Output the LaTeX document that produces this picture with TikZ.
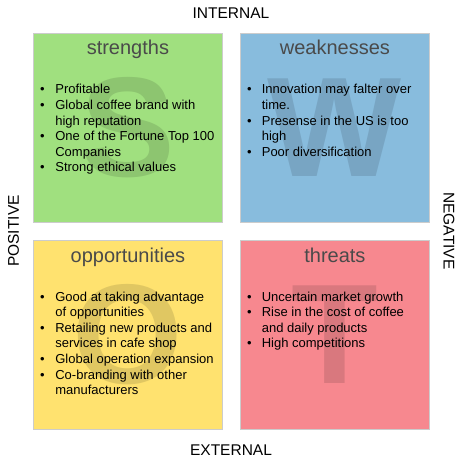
\documentclass[tikz,border=0pt]{standalone}
\usepackage{fontspec}
\setmainfont{Liberation Sans}
\usetikzlibrary{positioning}
\definecolor{swotS}{HTML}{A0E07F}
\definecolor{swotW}{HTML}{88BCDD}
\definecolor{swotO}{HTML}{FFE26F}
\definecolor{swotT}{HTML}{F7888F}
\definecolor{boxline}{HTML}{CCCCCC}
\definecolor{titlegray}{HTML}{4A4A4A}
\tikzset{
  box/.style={draw=boxline, line width=0.8pt, minimum width=189pt, minimum height=189pt,
    inner sep=0pt, anchor=north west},
  bigletter/.style={font=\fontsize{142}{142}\selectfont\bfseries, inner sep=0pt},
  boxtitle/.style={font=\fontsize{20}{24}\selectfont, text=titlegray, anchor=base, inner sep=0pt},
  itemlist/.style={font=\fontsize{13}{15.6}\selectfont, anchor=base west, inner sep=0pt},
  axislab/.style={font=\fontsize{15.5}{18}\selectfont, inner sep=0pt}
}
\begin{document}
\begin{tikzpicture}[x=1pt,y=-1pt]
\def\bw{189}   % box size
\def\gp{18}    % gap between boxes
\useasboundingbox (0,0) rectangle (462,462);
% the four quadrants with the big letter and the heading
\foreach \nm/\col/\x/\y/\lt/\ttl in {
  str/swotS/33/33/S/strengths,
  wk/swotW/240/33/W/weaknesses,
  opp/swotO/33/240/O/opportunities,
  thr/swotT/240/240/T/threats}{
  \node[box, fill=\col] (\nm) at (\x,\y) {};
  \node[bigletter, text=\col!88!black] (\nm-lt) at (\nm.center) {\lt};
  \node[boxtitle] (\nm-ttl) at ([yshift=-22pt]\nm.north) {\ttl};
}
% bullet lists
\node[itemlist] (str-list) at ([shift={(7,61)}]str.north west) {%
  \begin{tabular}[t]{@{}l@{\hspace{10.6pt}}l@{}}
  \textbullet & Profitable\\
  \textbullet & Global coffee brand with\\
              & high reputation\\
  \textbullet & One of the Fortune Top 100\\
              & Companies\\
  \textbullet & Strong ethical values
  \end{tabular}};
\node[itemlist] (wk-list) at ([shift={(7,61)}]wk.north west) {%
  \begin{tabular}[t]{@{}l@{\hspace{10.1pt}}l@{}}
  \textbullet & Innovation may falter over\\
              & time.\\
  \textbullet & Presense in the US is too\\
              & high\\
  \textbullet & Poor diversification
  \end{tabular}};
\node[itemlist] (opp-list) at ([shift={(7,61)}]opp.north west) {%
  \begin{tabular}[t]{@{}l@{\hspace{10.6pt}}l@{}}
  \textbullet & Good at taking advantage\\
              & of opportunities\\
  \textbullet & Retailing new products and\\
              & services in cafe shop\\
  \textbullet & Global operation expansion\\
  \textbullet & Co-branding with other\\
              & manufacturers
  \end{tabular}};
\node[itemlist] (thr-list) at ([shift={(7,61)}]thr.north west) {%
  \begin{tabular}[t]{@{}l@{\hspace{10.1pt}}l@{}}
  \textbullet & Uncertain market growth\\
  \textbullet & Rise in the cost of coffee\\
              & and daily products\\
  \textbullet & High competitions
  \end{tabular}};
% axis labels round the grid
\node[axislab] (intlab) at (231,13) {INTERNAL};
\node[axislab] (extlab) at (231,450) {EXTERNAL};
\node[axislab, rotate=90] (poslab) at (13.5,231) {POSITIVE};
\node[axislab, rotate=-90] (neglab) at (449,231) {NEGATIVE};
\end{tikzpicture}
\end{document}
